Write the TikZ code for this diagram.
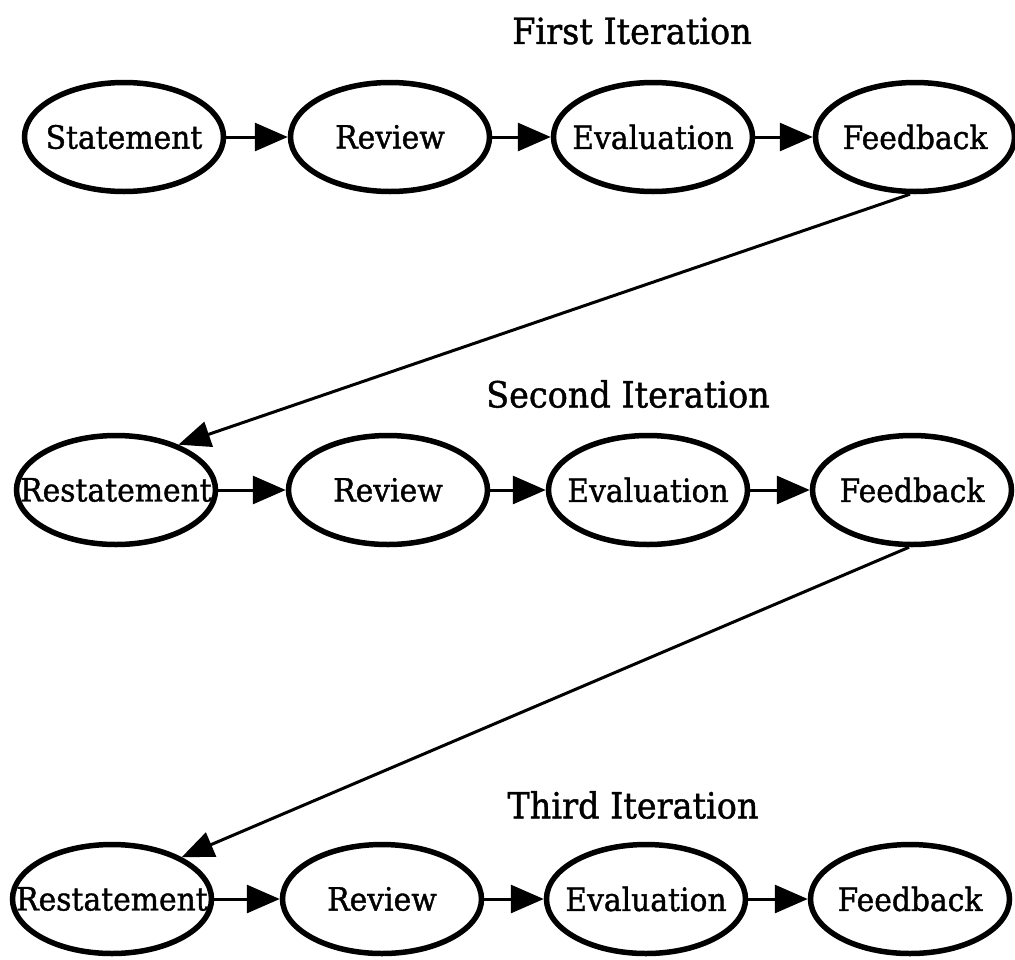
\documentclass[tikz,border=0pt]{standalone}
\usepackage{fontspec}
\setmainfont{DejaVu Serif}[FakeStretch=0.93,FakeBold=1.2]
\usetikzlibrary{shapes.geometric,arrows.meta}

% stage names may be wider than their ellipse: keep the ellipse size fixed
\newcommand\stagename[1]{\makebox[0pt]{#1}}

\begin{document}
\begin{tikzpicture}[x=1pt,y=-1pt,
  stage/.style={ellipse, draw, line width=5.5pt, minimum width=199pt,
    minimum height=109pt, inner sep=0pt, font=\fontsize{32}{32}\selectfont},
  heading/.style={inner sep=0pt, font=\fontsize{36}{36}\selectfont},
  flow/.style={line width=3pt, -{Triangle[length=33pt,width=28pt]}},
  loopback/.style={line width=3pt, -{Triangle[length=32pt,width=26pt]}}]
\useasboundingbox (0,0) rectangle (1015,959);

% first pass
\node[heading] (h1) at (632,31) {First Iteration};
\node[stage] (st1) at (124,137) {\stagename{Statement}};
\node[stage] (rv1) at (390,137) {\stagename{Review}};
\node[stage] (ev1) at (653,137) {\stagename{Evaluation}};
\node[stage] (fb1) at (915,137) {\stagename{Feedback}};

% second pass
\node[heading] (h2) at (628,394) {Second Iteration};
\node[stage] (rs2) at (116,490) {\stagename{Restatement}};
\node[stage] (rv2) at (388,490) {\stagename{Review}};
\node[stage] (ev2) at (648,490) {\stagename{Evaluation}};
\node[stage] (fb2) at (912,490) {\stagename{Feedback}};

% third pass
\node[heading] (h3) at (633,805) {Third Iteration};
\node[stage] (rs3) at (112,899) {\stagename{Restatement}};
\node[stage] (rv3) at (382,899) {\stagename{Review}};
\node[stage] (ev3) at (646,899) {\stagename{Evaluation}};
\node[stage] (fb3) at (910,899) {\stagename{Feedback}};

% steps within each pass
\draw[flow] (st1.east) -- (rv1.west);
\draw[flow] (rv1.east) -- (ev1.west);
\draw[flow] (ev1.east) -- (fb1.west);

\draw[flow] (rs2.east) -- (rv2.west);
\draw[flow] (rv2.east) -- (ev2.west);
\draw[flow] (ev2.east) -- (fb2.west);

\draw[flow] (rs3.east) -- (rv3.west);
\draw[flow] (rv3.east) -- (ev3.west);
\draw[flow] (ev3.east) -- (fb3.west);

% feedback starts the next pass
\draw[loopback] (fb1.-95) -- (rs2.36);
\draw[loopback] (fb2.-93) -- (rs3.31);
\end{tikzpicture}
\end{document}
